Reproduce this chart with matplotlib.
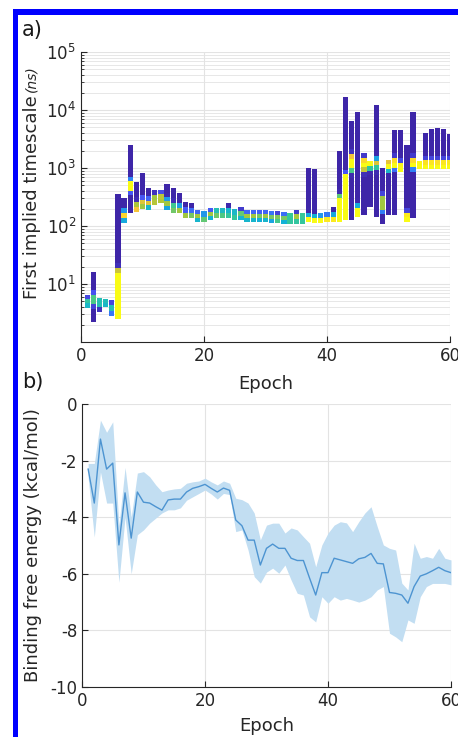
import numpy as np
import matplotlib
matplotlib.use("Agg")
import matplotlib.pyplot as plt
from matplotlib.colors import LinearSegmentedColormap
from matplotlib.patches import Rectangle

# ---- data ----
epochs = np.arange(1, 61)

# first implied timescale (ns): column span per epoch
ts_high = [6.5, 16, 5.7, 5.5, 5.3, 355, 300, 2500, 570, 820,
           460, 420, 420, 530, 450, 370, 260, 250, 190, 180,
           205, 205, 205, 250, 195, 215, 190, 190, 190, 190,
           180, 185, 175, 165, 190, 165, 1000, 950, 165, 175,
           215, 1950, 17000, 6500, 9300, 1800, 1300, 12300, 1000, 1400,
           4600, 4500, 2500, 9300, 1300, 4000, 4700, 4800, 4700, 3900]
ts_low = [3.9, 2.2, 3.3, 4.0, 2.8, 2.5, 112, 165, 175, 200,
          190, 230, 250, 190, 165, 165, 137, 137, 118, 118,
          126, 137, 137, 137, 126, 126, 118, 118, 118, 118,
          113, 113, 110, 110, 110, 110, 118, 113, 113, 118,
          118, 118, 126, 126, 145, 155, 210, 145, 110, 155,
          155, 850, 118, 137, 950, 950, 950, 950, 950, 950]
# range where the distribution is densest, and how dense (colour level 0-1)
ts_mode_low = [4.5, 5, 4.5, 4.5, 3.5, 2.5, 140, 450, 200, 230,
               230, 260, 280, 230, 190, 180, 150, 150, 140, 135,
               150, 160, 160, 160, 150, 150, 140, 140, 140, 140,
               135, 130, 130, 130, 130, 130, 118, 113, 120, 125,
               125, 118, 126, 1000, 145, 1000, 1100, 1100, 200, 1000,
               1100, 900, 118, 1100, 1000, 1000, 1000, 1000, 1000, 1000]
ts_mode_high = [5, 6, 5, 5, 4, 16, 160, 550, 220, 260,
                250, 300, 320, 260, 210, 200, 160, 160, 150, 145,
                160, 170, 170, 170, 160, 160, 150, 150, 150, 150,
                145, 140, 140, 140, 140, 140, 135, 130, 130, 135,
                140, 300, 700, 1500, 200, 1300, 1500, 1300, 300, 1200,
                1300, 1100, 150, 1300, 1200, 1200, 1200, 1200, 1200, 1200]
ts_mode_level = [0.55, 0.6, 0.55, 0.5, 0.5, 1.0, 0.9, 1.0, 0.9, 0.8,
                 0.8, 0.75, 0.75, 0.7, 0.7, 0.7, 0.7, 0.65, 0.7, 0.65,
                 0.7, 0.75, 0.7, 0.65, 0.7, 0.65, 0.7, 0.7, 0.65, 0.7,
                 0.65, 0.7, 0.65, 0.7, 0.75, 0.7, 1.0, 1.0, 1.0, 0.95,
                 0.95, 1.0, 1.0, 1.0, 1.0, 1.0, 1.0, 0.8, 0.7, 1.0,
                 1.0, 1.0, 1.0, 1.0, 1.0, 1.0, 1.0, 1.0, 1.0, 1.0]

# binding free energy (kcal/mol)
dg_mean = [-2.3, -3.5, -1.24, -2.3, -2.09, -4.98, -3.14, -4.74, -3.11, -3.47,
           -3.5, -3.63, -3.75, -3.39, -3.36, -3.36, -3.11, -2.98, -2.92, -2.84,
           -2.98, -3.11, -2.97, -3.05, -4.1, -4.3, -4.81, -4.81, -5.69, -5.1,
           -4.95, -5.1, -5.1, -5.45, -5.53, -5.53, -6.15, -6.75, -5.96, -5.96,
           -5.45, -5.51, -5.57, -5.63, -5.47, -5.42, -5.28, -5.63, -5.65, -6.66,
           -6.69, -6.75, -7.04, -6.45, -6.08, -6.0, -5.89, -5.77, -5.89, -5.96]
dg_upper = [-2.1, -2.1, -0.57, -1.0, -0.63, -4.3, -2.24, -4.0, -2.44, -2.39,
            -2.57, -2.86, -3.1, -3.04, -3.0, -2.98, -2.8, -2.75, -2.72, -2.62,
            -2.75, -2.86, -2.72, -2.8, -3.33, -3.38, -3.5, -3.85, -4.8, -4.28,
            -4.21, -4.21, -4.56, -4.38, -4.45, -4.69, -4.92, -5.75, -4.98, -4.56,
            -4.28, -4.16, -4.2, -4.51, -4.16, -3.85, -3.63, -4.33, -4.98, -5.1,
            -5.16, -6.33, -6.57, -4.92, -5.45, -5.39, -5.45, -5.1, -5.45, -5.51]
dg_lower = [-2.6, -4.7, -2.4, -3.5, -3.5, -6.3, -4.0, -6.0, -4.62, -4.45,
            -4.21, -4.03, -3.85, -3.74, -3.74, -3.67, -3.4, -3.28, -3.16, -3.04,
            -3.18, -3.36, -3.16, -3.2, -4.51, -4.45, -5.16, -6.1, -6.33, -5.94,
            -5.8, -5.98, -5.69, -6.22, -6.69, -6.75, -7.52, -7.7, -6.81, -7.04,
            -6.81, -6.93, -6.87, -6.93, -7.0, -6.93, -6.81, -6.57, -6.45, -8.1,
            -8.23, -8.4, -7.63, -7.75, -6.81, -6.45, -6.34, -6.34, -6.34, -6.39]

# parula-like colormap
parula = LinearSegmentedColormap.from_list("parula", [
    (0.2422, 0.1504, 0.6603), (0.2810, 0.3228, 0.9579),
    (0.1786, 0.5289, 0.9682), (0.0689, 0.6948, 0.8394),
    (0.2161, 0.7843, 0.5923), (0.6720, 0.7793, 0.2227),
    (0.9970, 0.7659, 0.2199), (0.9769, 0.9839, 0.0805)])

txt = (0.15, 0.15, 0.15)
grid_c = (0.89, 0.89, 0.89)
plt.rcParams['font.family'] = ['DejaVu Sans']
plt.rcParams['axes.unicode_minus'] = False

W, H = 458, 737
fig = plt.figure(figsize=(W / 100, H / 100), dpi=100)

def style_axes(ax):
    for s in ['top', 'right']:
        ax.spines[s].set_visible(False)
    for s in ['left', 'bottom']:
        ax.spines[s].set_color(txt)
        ax.spines[s].set_linewidth(0.8)
    ax.tick_params(which='both', direction='in', colors=txt, labelsize=12)
    ax.tick_params(which='major', length=4)
    ax.tick_params(which='minor', length=2)
    ax.set_axisbelow(True)

# ---- a) implied timescales ----
ax1 = fig.add_axes([81 / W, 1 - 342 / H, 369 / W, 290 / H])
style_axes(ax1)
ax1.set_yscale('log')

step = 0.08  # log10 bin height of the cells
xs, bottoms, heights, vals = [], [], [], []
for e, lo, hi, mlo, mhi, lev in zip(epochs, ts_low, ts_high, ts_mode_low,
                                    ts_mode_high, ts_mode_level):
    a, b = np.log10(lo), np.log10(hi)
    n = max(1, int(round((b - a) / step)))
    edges = np.linspace(a, b, n + 1)
    mids = (edges[:-1] + edges[1:]) / 2
    pa, pb = np.log10(mlo), np.log10(mhi)
    d = np.where(mids < pa, pa - mids, np.where(mids > pb, mids - pb, 0.0))
    xs += [e] * n
    bottoms += list(10 ** edges[:-1])
    heights += list(10 ** edges[1:] - 10 ** edges[:-1])
    vals += list(lev * np.exp(-(d / 0.06) ** 2))

ax1.bar(xs, heights, bottom=bottoms, width=0.85, color=parula(np.array(vals)),
        linewidth=0, zorder=3)
ax1.set_xlim(0, 60)
ax1.set_ylim(1, 1e5)
ax1.set_xticks([0, 20, 40, 60])
ax1.set_yticks([1e1, 1e2, 1e3, 1e4, 1e5])
ax1.grid(True, which='major', color=grid_c, linewidth=0.8)
ax1.grid(True, which='minor', axis='y', color=grid_c, linewidth=0.6)
ax1.set_xlabel('Epoch', fontsize=13, color=txt, labelpad=7)
ax1.set_ylabel('First implied timescale', fontsize=13, color=txt, labelpad=4)

# ---- b) binding free energy ----
ax2 = fig.add_axes([82 / W, 1 - 687 / H, 369 / W, 283 / H])
style_axes(ax2)
ax2.fill_between(epochs, dg_lower, dg_upper, color=(0.76, 0.87, 0.95),
                 linewidth=0, zorder=2)
ax2.plot(epochs, dg_mean, color=(0.30, 0.58, 0.82), linewidth=1.0, zorder=3)
ax2.set_xlim(0, 60)
ax2.set_ylim(-10, 0)
ax2.set_xticks([0, 20, 40, 60])
ax2.set_yticks([-10, -8, -6, -4, -2, 0])
ax2.grid(True, color=grid_c, linewidth=0.8)
ax2.set_xlabel('Epoch', fontsize=13, color=txt, labelpad=5)
ax2.set_ylabel('Binding free energy (kcal/mol)', fontsize=13, color=txt, labelpad=6)

# panel letters
fig.text(22 / W, 1 - 36 / H, 'a)', fontsize=15, color=(0.1, 0.1, 0.1))
fig.text(22 / W, 1 - 388 / H, 'b)', fontsize=15, color=(0.1, 0.1, 0.1))

# "(ns)" appended to the a) y-label, smaller and in italics
fig.canvas.draw()
bb = ax1.yaxis.label.get_window_extent()
fig.text((bb.x0 + bb.x1) / 2 / W, (bb.y1 + 3) / H, '(ns)', rotation=90,
         ha='center', va='bottom', fontsize=10, style='italic', color=txt)

# blue frame on the left and top edges
fig.add_artist(Rectangle((13 / W, 0), 5 / W, 1 - 9 / H, transform=fig.transFigure,
                         color=(0, 0, 1), linewidth=0))
fig.add_artist(Rectangle((13 / W, 1 - 15 / H), 1, 6 / H, transform=fig.transFigure,
                         color=(0, 0, 1), linewidth=0))

fig.savefig('out.png', dpi=100)
